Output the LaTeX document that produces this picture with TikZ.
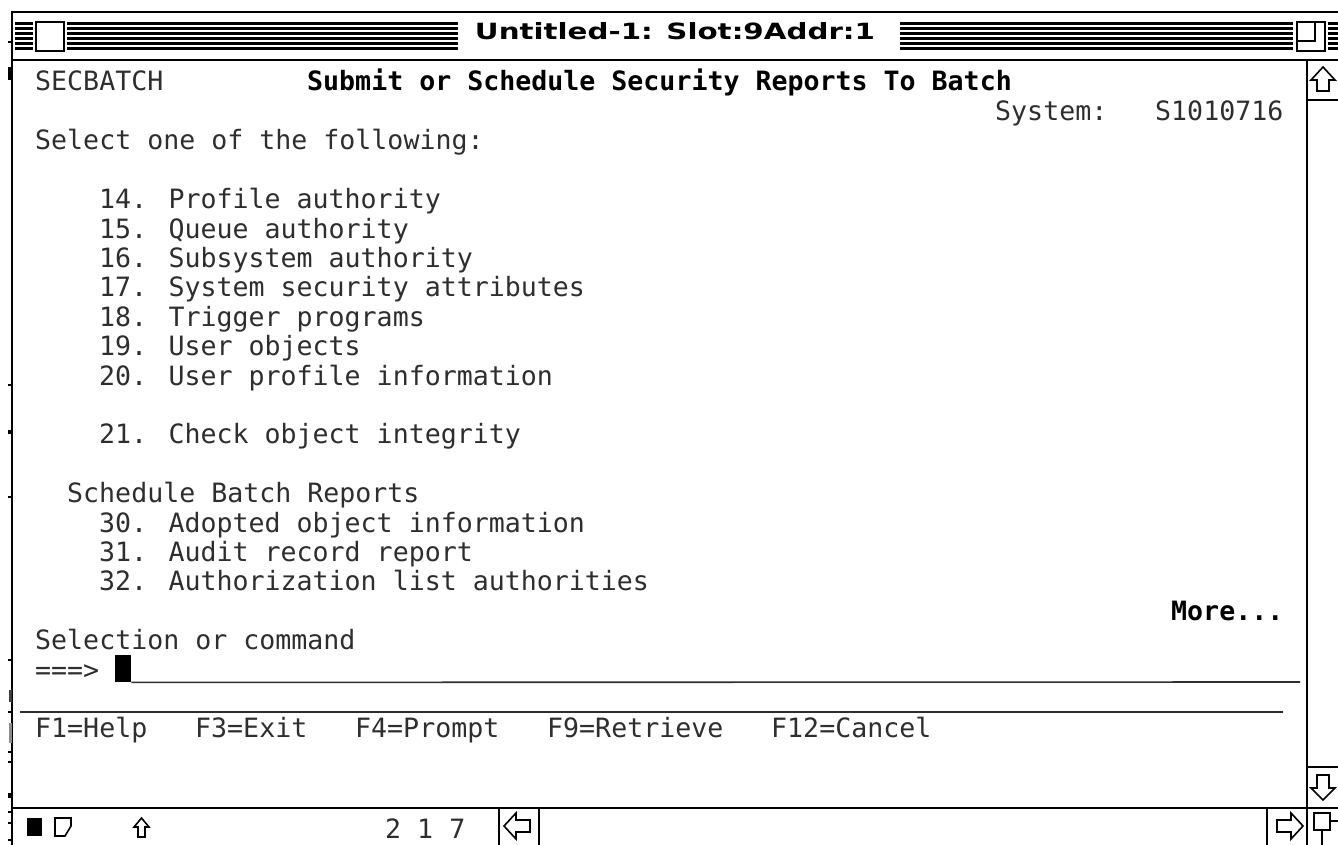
\documentclass[tikz,border=0pt]{standalone}
\usepackage{fontspec}
\usetikzlibrary{positioning}
\newfontfamily\termfont{DejaVu Sans Mono}
\newfontfamily\titlefont{DejaVu Sans}
\definecolor{ink}{HTML}{000000}
\definecolor{termink}{HTML}{2E2E2E}
\definecolor{paper}{HTML}{FFFFFF}

\begin{document}
\begin{tikzpicture}[
    x=1pt, y=-1pt, % 像素坐标, y 向下
    frame/.style={draw=ink, line width=2pt},
    rule/.style={draw=termink, line width=1.6pt},
    stripe/.style={draw=ink, line width=2.4pt},
    icon/.style={draw=ink, line width=1.6pt, fill=paper},
    tick/.style={fill=ink},
    term/.style={inner sep=0pt, anchor=base west, text=termink, font=\termfont\fontsize{26.6}{26.6}\selectfont},
    term bold/.style={term, text=ink, font=\termfont\bfseries\fontsize{26.6}{26.6}\selectfont}
  ]
\useasboundingbox[fill=paper] (0,0) rectangle (1338,845);

% 标题栏条纹
\foreach \sy in {23.5,28.5,...,48.5}{
  \draw[stripe] (15,\sy) -- (33,\sy);
  \draw[stripe] (67,\sy) -- (458,\sy);
  \draw[stripe] (900,\sy) -- (1293,\sy);
  \draw[stripe] (1328,\sy) -- (1340,\sy);
}
\draw[frame, fill=paper] (36,22) rectangle (64,51);
\draw[frame, fill=paper] (1297,22) rectangle (1325,51);
\draw[frame] (1297,41) -| (1315,22);
\node[inner sep=0pt, anchor=base] (wintitle) at (675,40)
  {\resizebox{400pt}{17pt}{\titlefont\bfseries Untitled-1: Slot:9Addr:1}};

% 窗口边框与滚动条
\draw[frame] (12,845) -- (12,12) -- (1340,12);
\draw[frame] (12,60) -- (1340,60);
\draw[frame] (1307,60) -- (1307,845);
\draw[frame] (12,808) -- (1340,808);
\draw[frame] (1307,100) -- (1340,100);
\draw[frame] (1307,767) -- (1340,767);
\draw[frame] (499,808) -- (499,845);
\draw[frame] (539,808) -- (539,845);
\draw[frame] (1267,808) -- (1267,845);

% 左边缘的小刻痕
\foreach \ty in {42,385,497,660,712,752,762,812,823,840}
  \fill[tick] (8,\ty-1) rectangle (12,\ty+1);
\fill[tick] (8,67) rectangle (12,80);
\fill[tick] (8,430) rectangle (12,434);
\fill[tick] (8,793) rectangle (12,798);
\fill[ink!75] (9,690) rectangle (12,702);
\fill[ink!45] (9,723) rectangle (12,743);

% 终端屏幕
\node[term] (progname) at (35,91) {SECBATCH};
\node[term bold] (heading) at (307,91) {Submit or Schedule Security Reports To Batch};
\node[term] (syslabel) at (995,120.4) {System:};
\node[term] (sysname) at (1155,120.4) {S1010716};
\node[term] (selecthint) at (35,149.8) {Select one of the following:};
\foreach \num/\txt/\r in {14/Profile authority/4, 15/Queue authority/5,
    16/Subsystem authority/6, 17/System security attributes/7,
    18/Trigger programs/8, 19/User objects/9, 20/User profile information/10,
    21/Check object integrity/12, 30/Adopted object information/15,
    31/Audit record report/16, 32/Authorization list authorities/17}
  \node[term] (opt\num) at (99,{91+29.4*\r}) {\num. \txt};
\node[term] (schedhead) at (67,502.6) {Schedule Batch Reports};
\node[term bold] (more) at (1171,620.2) {More...};
\node[term] (cmdlabel) at (35,649.6) {Selection or command};
\node[term] (cmdarrow) at (35,679) {===>};
\node[fill=ink, inner sep=0pt, minimum width=16pt, minimum height=27pt, anchor=north west] (cursor) at (115,655) {};
\draw[rule] (cursor.south east) -- (1300,682);
\draw[rule] (20,712) -- (1283,712);
\foreach \fk/\c [count=\i] in {F1=Help/0, F3=Exit/10, F4=Prompt/20, F9=Retrieve/32, F12=Cancel/46}
  \node[term] (fkey\i) at ({35+16*\c},737.8) {\fk};

% 状态栏图标
\fill[ink] (27,818) rectangle (42,836);
\draw[icon] (55,818) -- (71,818) -- (71,826) -- (65,836) -- (55,836) -- cycle;
\draw[icon] (141.5,818) -- ++(7.5,9) -- ++(-4,0) -- ++(0,10) -- ++(-7,0) -- ++(0,-10) -- ++(-4,0) -- cycle;
\node[term] (linecount) at (385,838) {2 1 7};
\draw[icon] (1323,67) -- ++(12,13) -- ++(-6,0) -- ++(0,11) -- ++(-12,0) -- ++(0,-11) -- ++(-6,0) -- cycle;
\draw[icon] (1323,800) -- ++(12,-12) -- ++(-6,0) -- ++(0,-13) -- ++(-12,0) -- ++(0,13) -- ++(-6,0) -- cycle;
\draw[icon] (504,826) -- ++(12,-13) -- ++(0,7) -- ++(14,0) -- ++(0,12) -- ++(-14,0) -- ++(0,7) -- cycle;
\draw[icon] (1303,826) -- ++(-12,-13) -- ++(0,7) -- ++(-14,0) -- ++(0,12) -- ++(14,0) -- ++(0,7) -- cycle;
\draw[icon] (1322,821) rectangle (1345,850);
\draw[icon] (1314,813) rectangle (1330,830);
\end{tikzpicture}
\end{document}
